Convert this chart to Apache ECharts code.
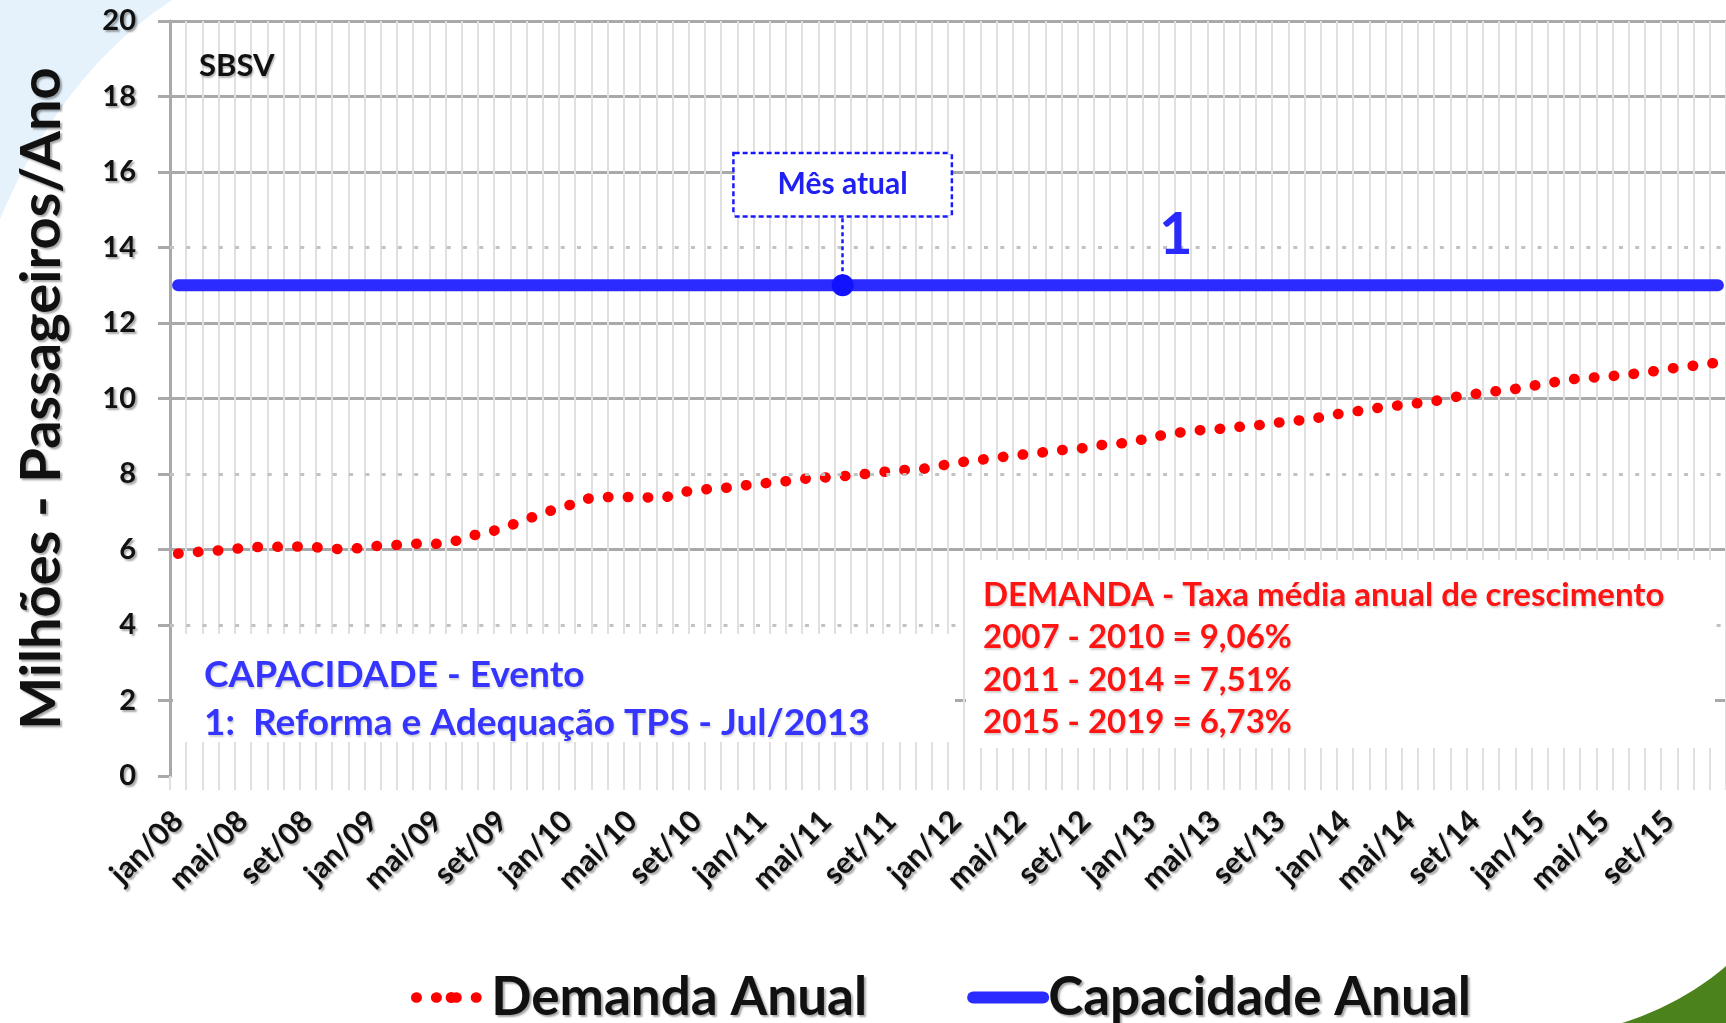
<!DOCTYPE html>
<html>
<head>
<meta charset="utf-8">
<title>SBSV - Demanda x Capacidade</title>
<script src="https://cdn.jsdelivr.net/npm/echarts@6/dist/echarts.min.js"></script>
<style>
	html, body { margin: 0; padding: 0; background: #ffffff; }
	#grafico { width: 1726px; height: 1023px; }
</style>
</head>
<body>
<div id="grafico"></div>
<script>
	// eixo x: meses de jan/08 a dez/15
	var meses = ['jan', 'fev', 'mar', 'abr', 'mai', 'jun', 'jul', 'ago', 'set', 'out', 'nov', 'dez'];
	var anos = ['08', '09', '10', '11', '12', '13', '14', '15'];

	// eixo y (milhões de passageiros/ano)
	var eixoYMin = 0;
	var eixoYMax = 20;
	var eixoYPasso = 2;

	var nomesSeries = ['Demanda Anual', 'Capacidade Anual'];

	// demanda anual (milhões) - um valor por mês
	var demandaAnual = [
		5.89, 5.93, 5.96, 5.99, 6.04, 6.07, 6.07, 6.08, 6.08, 6.04, 6.01, 6.03,
		6.09, 6.10, 6.14, 6.16, 6.15, 6.21, 6.36, 6.44, 6.56, 6.72, 6.88, 7.03,
		7.15, 7.33, 7.39, 7.39, 7.39, 7.38, 7.37, 7.51, 7.58, 7.61, 7.64, 7.70,
		7.75, 7.78, 7.84, 7.89, 7.91, 7.94, 7.98, 8.03, 8.08, 8.11, 8.14, 8.22,
		8.29, 8.36, 8.40, 8.46, 8.51, 8.55, 8.62, 8.65, 8.69, 8.77, 8.80, 8.86,
		8.97, 9.05, 9.11, 9.16, 9.18, 9.24, 9.26, 9.31, 9.37, 9.41, 9.46, 9.55,
		9.62, 9.68, 9.75, 9.80, 9.86, 9.89, 9.97, 10.06, 10.12, 10.18, 10.22, 10.29,
		10.37, 10.44, 10.51, 10.55, 10.57, 10.62, 10.66, 10.72, 10.79, 10.84, 10.90, 10.95
	];

	// capacidade anual (milhões) - um valor por mês
	var capacidadeAnual = [
		13, 13, 13, 13, 13, 13, 13, 13, 13, 13, 13, 13,
		13, 13, 13, 13, 13, 13, 13, 13, 13, 13, 13, 13,
		13, 13, 13, 13, 13, 13, 13, 13, 13, 13, 13, 13,
		13, 13, 13, 13, 13, 13, 13, 13, 13, 13, 13, 13,
		13, 13, 13, 13, 13, 13, 13, 13, 13, 13, 13, 13,
		13, 13, 13, 13, 13, 13, 13, 13, 13, 13, 13, 13,
		13, 13, 13, 13, 13, 13, 13, 13, 13, 13, 13, 13,
		13, 13, 13, 13, 13, 13, 13, 13, 13, 13, 13, 13
	];

	// anotações
	var mesAtual = 'jun/11';
	var marcaEvento = 'fev/13';
	var topoChamada = 14.85;	// valor do eixo y onde termina a linha da chamada
	var linhasPontilhadas = [4, 8, 14];

	var textoCapacidade = ['CAPACIDADE - Evento', '1:  Reforma e Adequação TPS - Jul/2013'];
	var textoDemanda = [
		'DEMANDA - Taxa média anual de crescimento',
		'2007 - 2010 = 9,06%',
		'2011 - 2014 = 7,51%',
		'2015 - 2019 = 6,73%'
	];

	var categorias = [];
	for (var a = 0; a < anos.length; a++) {
		for (var m = 0; m < meses.length; m++) {
			categorias.push(meses[m] + '/' + anos[a]);
		}
	}

	var fonte = 'Lato, "Open Sans", sans-serif';

	var corGrade = '#a9a9a9';
	var corGradeMes = '#e0e0e0';
	var corAzul = '#2b2bff';
	var corVermelho = '#ff0000';

	// junta propriedades (sem jquery aqui)
	var extend = function(a, b) {
		for (var k in b) { a[k] = b[k]; }
		return a;
	};

	var sombra = function() {
		return {
			textShadowColor: 'rgba(0,0,0,0.35)',
			textShadowBlur: 2,
			textShadowOffsetX: 2,
			textShadowOffsetY: 2
		};
	};

	// cor de cada linha horizontal (0, 2, ... 20); as pontilhadas vêm do markLine
	var coresGrade = [];
	for (var v = eixoYMin; v <= eixoYMax; v += eixoYPasso) {
		if (v === 0 || linhasPontilhadas.indexOf(v) >= 0) {
			coresGrade.push('rgba(0,0,0,0)');
		} else {
			coresGrade.push(corGrade);
		}
	}

	// curva de bezier quadrática em pontos (enfeite do slide)
	var curva = function(p0, p1, p2, fechar) {
		var pts = [];
		for (var i = 0; i <= 24; i++) {
			var t = i / 24;
			pts.push([
				(1 - t) * (1 - t) * p0[0] + 2 * (1 - t) * t * p1[0] + t * t * p2[0],
				(1 - t) * (1 - t) * p0[1] + 2 * (1 - t) * t * p1[1] + t * t * p2[1]
			]);
		}
		return pts.concat(fechar);
	};

	var buildTexto = function(linhas, x, y0, passo, cor, tamanho) {
		var els = [];
		for (var i = 0; i < linhas.length; i++) {
			els.push({
				type: 'text',
				z: 11,
				x: x,
				y: y0 + i * passo,
				style: {
					text: linhas[i],
					fill: cor,
					font: 'bold ' + tamanho + 'px ' + fonte,
					verticalAlign: 'middle',
					textShadowColor: 'rgba(0,0,0,0.18)',
					textShadowBlur: 2,
					textShadowOffsetX: 1,
					textShadowOffsetY: 2
				}
			});
		}
		return els;
	};

	var getOption = function() {
		var idxAtual = categorias.indexOf(mesAtual);
		var capAtual = capacidadeAnual[idxAtual];
		var capEvento = capacidadeAnual[categorias.indexOf(marcaEvento)];

		var graficos = [
			// fundo do slide
			{
				type: 'polygon', z: -10, silent: true,
				shape: { points: curva([172, 0], [62, 72], [0, 219], [[0, 0]]) },
				style: { fill: '#e5f1fb' }
			},
			{
				type: 'polygon', z: -10, silent: true,
				shape: { points: curva([1622, 1023], [1682, 1004], [1726, 966], [[1726, 1023]]) },
				style: { fill: '#4c821c' }
			},
			{
				type: 'text', z: 11, x: 199, y: 66,
				style: {
					text: 'SBSV', fill: '#111', font: 'bold 31px ' + fonte, verticalAlign: 'middle',
					textShadowColor: 'rgba(0,0,0,0.3)', textShadowBlur: 2, textShadowOffsetX: 1, textShadowOffsetY: 2
				}
			},
			// caixas de texto
			{ type: 'rect', z: 10, silent: true, shape: { x: 173, y: 634, width: 782, height: 108 }, style: { fill: '#ffffff' } },
			{ type: 'rect', z: 10, silent: true, shape: { x: 966, y: 560, width: 749, height: 188 }, style: { fill: '#ffffff' } }
		];
		graficos = graficos.concat(buildTexto(textoCapacidade, 204, 675, 48, '#3535ff', 37));
		graficos = graficos.concat(buildTexto(textoDemanda, 983, 595, 42.5, '#ff1414', 33));

		var option = {
			animation: false,
			backgroundColor: '#ffffff',
			textStyle: { fontFamily: fonte },
			grid: {
				left: 170,
				top: 21,
				right: -7,
				bottom: 247,
				containLabel: false
			},
			legend: {
				left: 406,
				top: 966,
				itemWidth: 70,
				itemHeight: 14,
				itemGap: 100,
				data: nomesSeries,
				lineStyle: { width: 'inherit' },
				textStyle: extend({
					fontSize: 53,
					fontWeight: 'bold',
					color: '#111',
					fontFamily: fonte
				}, sombra())
			},
			xAxis: {
				type: 'category',
				data: categorias,
				boundaryGap: true,
				axisLine: { show: false },
				axisTick: { show: true, interval: 0, length: 14, lineStyle: { color: corGradeMes, width: 2 } },
				splitLine: { show: true, interval: 0, lineStyle: { color: corGradeMes, width: 2 } },
				axisLabel: extend({
					interval: 3,
					rotate: 45,
					margin: 40,
					fontSize: 30,
					fontWeight: 'bold',
					color: '#111',
					fontFamily: fonte
				}, sombra())
			},
			yAxis: {
				type: 'value',
				min: eixoYMin,
				max: eixoYMax,
				interval: eixoYPasso,
				name: 'Milhões - Passageiros/Ano',
				nameLocation: 'middle',
				nameRotate: 90,
				nameGap: 100,
				nameTextStyle: extend({
					fontSize: 56,
					fontWeight: 'bold',
					color: '#111',
					fontFamily: fonte
				}, sombra()),
				axisLine: { show: true, lineStyle: { color: corGrade, width: 3 } },
				axisTick: { show: true, length: 12, lineStyle: { color: corGrade, width: 3 } },
				splitLine: { show: true, lineStyle: { color: coresGrade, width: 3 } },
				axisLabel: extend({
					margin: 34,
					fontSize: 29,
					fontWeight: 'bold',
					color: '#111',
					fontFamily: fonte
				}, sombra())
			},
			series: [
				{
					name: nomesSeries[0],
					type: 'line',
					data: demandaAnual,
					symbol: 'none',
					z: 3,
					itemStyle: { color: corVermelho },
					lineStyle: { color: corVermelho, width: 10.5, type: [0.5, 19.4], cap: 'round' },
					markLine: {
						silent: true,
						symbol: ['none', 'none'],
						label: { show: false },
						lineStyle: { color: '#c2c2c2', width: 3, type: [4, 12.28] },
						data: linhasPontilhadas.map(function(y) { return { yAxis: y }; })
					}
				},
				{
					name: nomesSeries[1],
					type: 'line',
					data: capacidadeAnual,
					symbol: 'none',
					z: 4,
					itemStyle: { color: corAzul },
					lineStyle: { color: corAzul, width: 12, cap: 'round' },
					markLine: {
						silent: true,
						symbol: ['none', 'none'],
						label: { show: false },
						lineStyle: { color: '#1a1aff', width: 2.5, type: [4, 3] },
						data: [[{ coord: [mesAtual, capAtual] }, { coord: [mesAtual, topoChamada] }]]
					},
					markPoint: {
						silent: true,
						data: [
							{
								coord: [mesAtual, capAtual],
								symbol: 'circle',
								symbolSize: 22,
								itemStyle: { color: '#1212ff' },
								label: {
									show: true,
									position: 'top',
									distance: 59,
									formatter: 'Mês atual',
									color: '#2020f0',
									fontSize: 30,
									fontWeight: 'bold',
									fontFamily: fonte,
									backgroundColor: '#ffffff',
									borderColor: '#1a1aff',
									borderWidth: 2.5,
									borderType: [5, 3],
									width: 216,
									height: 61,
									lineHeight: 61,
									align: 'center',
									padding: 0
								}
							},
							{
								coord: [marcaEvento, capEvento],
								symbol: 'circle',
								symbolSize: 1,
								itemStyle: { color: 'rgba(0,0,0,0)' },
								label: {
									show: true,
									position: 'inside',
									offset: [9, -50],
									formatter: '1',
									color: '#2a2aff',
									fontSize: 58,
									fontWeight: 'bold',
									fontFamily: fonte
								}
							}
						]
					}
				}
			],
			graphic: graficos
		};
		return option;
	};

	var meuGrafico = echarts.init(document.getElementById('grafico'));
	meuGrafico.setOption(getOption());
</script>
</body>
</html>
